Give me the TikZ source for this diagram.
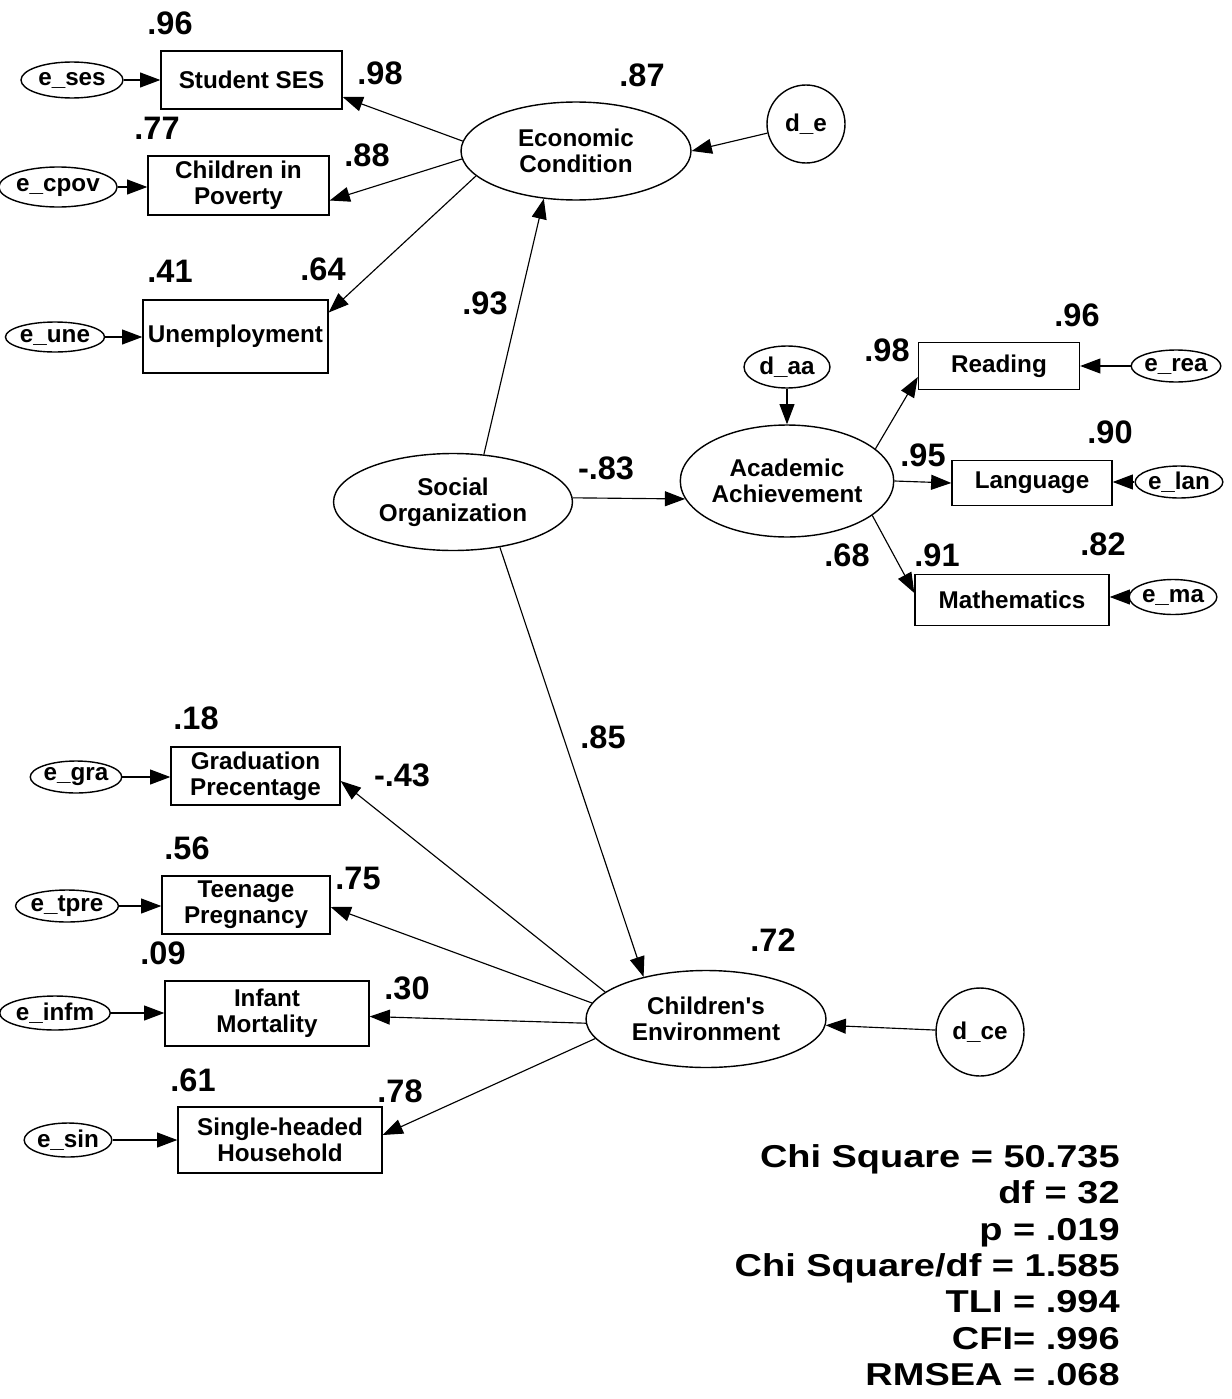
\documentclass[tikz,border=0pt]{standalone}
\usepackage{fontspec}
\setmainfont{Liberation Sans}
\newfontfamily\statfont[FakeStretch=1.2]{Liberation Sans}
\usetikzlibrary{shapes.geometric,arrows.meta,calc}
\begin{document}
\begin{tikzpicture}[x=0.02cm,y=-0.02cm,
  every node/.style={font=\bfseries\fontsize{13.8}{14.6}\selectfont, inner sep=0pt, align=center},
  obs/.style={draw, line width=0.8pt, rectangle},
  lat/.style={draw, line width=0.8pt, ellipse},
  circ/.style={draw, line width=0.8pt, circle},
  coef/.style={font=\bfseries\fontsize{18.5}{20}\selectfont},
  stat/.style={font=\statfont\bfseries\fontsize{18}{20}\selectfont, anchor=base east},
  arr/.style={line width=0.65pt, -{Triangle[length=11.5pt,width=8.5pt]}},
]
\useasboundingbox (0,0) rectangle (1231,1399);

% ---- Economic condition block
\node[obs, minimum width=3.62cm, minimum height=1.16cm] (ses) at (251.5,80) {Student SES};
\node[obs, minimum width=3.62cm, minimum height=1.18cm] (cpov) at (238.5,185.5) {Children in\\Poverty};
\node[obs, minimum width=3.70cm, minimum height=1.46cm] (une) at (235.5,336.5) {Unemployment};
\node[lat, minimum width=2.04cm, minimum height=0.72cm] (eses) at (72,80) {e\_ses};
\node[lat, minimum width=2.04cm, minimum height=0.80cm] (ecpov) at (58,187) {e\_cpov};
\node[lat, minimum width=1.74cm, minimum height=0.60cm] (eune) at (55,337) {e\_une};
\node[lat, minimum width=4.60cm, minimum height=1.96cm] (EC) at (576,151) {Economic\\Condition};
\node[circ, minimum size=1.56cm] (de) at (806,124) {d\_e};

% ---- Social organization
\node[lat, minimum width=4.78cm, minimum height=1.94cm] (SO) at (453,502) {Social\\Organization};

% ---- Academic achievement block
\node[lat, minimum width=4.18cm, minimum height=2.24cm] (AA) at (787,481) {Academic\\Achievement};
\node[lat, minimum width=1.72cm, minimum height=0.84cm] (daa) at (787,367) {d\_aa};
\node[obs, minimum width=3.22cm, minimum height=0.94cm] (rea) at (999,366) {Reading};
\node[lat, minimum width=1.64cm, minimum height=0.64cm] (erea) at (1176,366) {e\_rea};
\node[obs, minimum width=3.20cm, minimum height=0.90cm] (lan) at (1032,483) {Language};
\node[lat, minimum width=1.48cm, minimum height=0.64cm] (elan) at (1179,482) {e\_lan};
\node[obs, minimum width=3.88cm, minimum height=1.02cm] (math) at (1012,600) {Mathematics};
\node[lat, minimum width=1.74cm, minimum height=0.70cm] (ema) at (1173,597) {e\_ma};

% ---- Children's environment block
\node[lat, minimum width=4.80cm, minimum height=1.94cm] (CE) at (706,1019) {Children\textquotesingle s\\Environment};
\node[circ, minimum size=1.76cm] (dce) at (980,1032) {d\_ce};
\node[obs, minimum width=3.38cm, minimum height=1.16cm] (grad) at (255.5,776) {Graduation\\Precentage};
\node[lat, minimum width=1.74cm, minimum height=0.64cm] (egra) at (76,777) {e\_gra};
\node[obs, minimum width=3.36cm, minimum height=1.16cm] (teen) at (246,905) {Teenage\\Pregnancy};
\node[lat, minimum width=1.76cm, minimum height=0.64cm] (etpre) at (67,906) {e\_tpre};
\node[obs, minimum width=4.08cm, minimum height=1.30cm] (infm) at (267,1013.5) {Infant\\Mortality};
\node[lat, minimum width=1.68cm, minimum height=0.68cm] (einfm) at (55,1013) {e\_infm};
\node[obs, minimum width=4.08cm, minimum height=1.32cm] (sin) at (280,1140) {Single-headed\\Household};
\node[lat, minimum width=1.66cm, minimum height=0.68cm] (esin) at (68,1140) {e\_sin};

% ---- coefficients
\node[coef] (c1) at (170,23) {.96};
\node[coef] (c2) at (380,73) {.98};
\node[coef] (c3) at (157,128) {.77};
\node[coef] (c4) at (367,155) {.88};
\node[coef] (c5) at (170,271) {.41};
\node[coef] (c6) at (323,269) {.64};
\node[coef] (c7) at (642,75) {.87};
\node[coef] (c8) at (485,303) {.93};
\node[coef] (c9) at (606,468) {-.83};
\node[coef] (c10) at (1077,315) {.96};
\node[coef] (c11) at (887,350) {.98};
\node[coef] (c12) at (1110,432) {.90};
\node[coef] (c13) at (923,455) {.95};
\node[coef] (c14) at (1103,544) {.82};
\node[coef] (c15) at (937,555) {.91};
\node[coef] (c16) at (847,555) {.68};
\node[coef] (c17) at (603,737) {.85};
\node[coef] (c18) at (196,718) {.18};
\node[coef] (c19) at (402,775) {-.43};
\node[coef] (c20) at (187,848) {.56};
\node[coef] (c21) at (358,878) {.75};
\node[coef] (c22) at (163,953) {.09};
\node[coef] (c23) at (407,988) {.30};
\node[coef] (c24) at (193,1080) {.61};
\node[coef] (c25) at (400,1091) {.78};
\node[coef] (c26) at (773,940) {.72};

% ---- fit statistics
\node[stat] (s1) at (1120,1167) {Chi Square = 50.735};
\node[stat] (s2) at (1120,1203) {df = 32};
\node[stat] (s3) at (1120,1240) {p = .019};
\node[stat] (s4) at (1120,1276) {Chi Square/df = 1.585};
\node[stat] (s5) at (1120,1312) {TLI = .994};
\node[stat] (s6) at (1120,1349) {CFI= .996};
\node[stat] (s7) at (1120,1385) {RMSEA = .068};

% ---- connectors
\draw[arr] (eses.east) -- (eses.east -| ses.west);
\draw[arr] (ecpov.east) -- (ecpov.east -| cpov.west);
\draw[arr] (eune.east) -- (eune.east -| une.west);
\draw[arr] (EC.175) -- ($(ses.east)+(0,17)$);
\draw[arr] (EC.184) -- ($(cpov.east)+(0,15)$);
\draw[arr] (EC.194) -- ($(une.east)+(0,-24)$);
\draw[arr] (de) -- (EC.east);
\draw[arr] (SO.57) -- (EC.236);
\draw[arr] (SO.2) -- (AA.190);
\draw[arr] (SO.-44) -- (CE.146);
\draw[arr] (daa) -- (AA.north);
\draw[arr] (AA.20) -- ($(rea.west)+(0,11)$);
\draw[arr] (AA.east) -- (lan.west);
\draw[arr] (AA.-22) -- ($(math.west)+(0,-7)$);
\draw[arr] (erea.west) -- (erea.west -| rea.east);
\draw[arr] (elan.west) -- (elan.west -| lan.east);
\draw[arr] (ema.west) -- (ema.west -| math.east);
\draw[arr] (dce) -- (CE.-3);
\draw[arr] (CE.165) -- ($(grad.east)+(0,5)$);
\draw[arr] (CE.172) -- ($(teen.east)+(0,2)$);
\draw[arr] (CE.182) -- ($(infm.east)+(0,3)$);
\draw[arr] (CE.190) -- ($(sin.east)+(0,-5)$);
\draw[arr] (egra.east) -- (egra.east -| grad.west);
\draw[arr] (etpre.east) -- (etpre.east -| teen.west);
\draw[arr] (einfm.east) -- (einfm.east -| infm.west);
\draw[arr] (esin.east) -- (esin.east -| sin.west);
\end{tikzpicture}
\end{document}
